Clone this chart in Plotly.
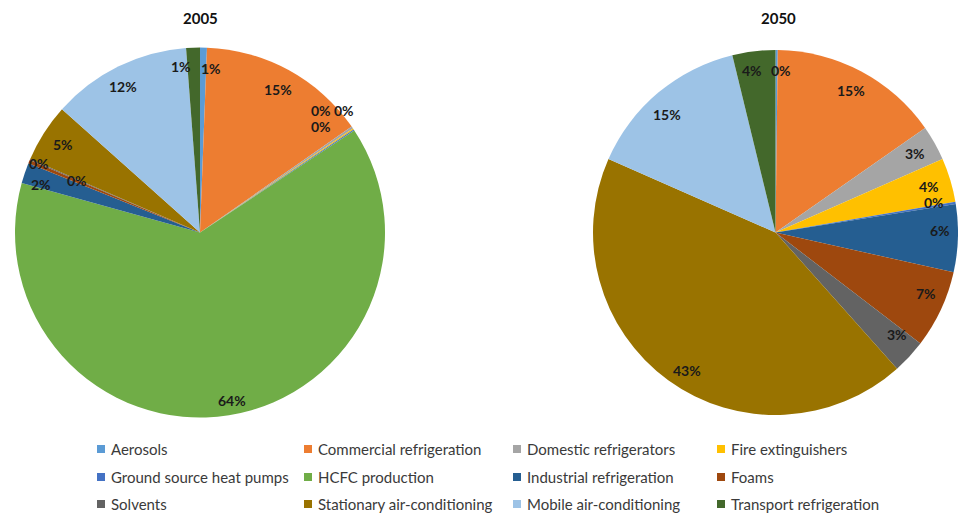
import math
import plotly.graph_objects as go

# Categories (fixed order, clockwise from 12 o'clock)
categories = [
    "Aerosols", "Commercial refrigeration", "Domestic refrigerators", "Fire extinguishers",
    "Ground source heat pumps", "HCFC production", "Industrial refrigeration", "Foams",
    "Solvents", "Stationary air-conditioning", "Mobile air-conditioning", "Transport refrigeration",
]

# Share of emissions (%) per sector
values_2005 = [0.6, 14.7, 0.2, 0.1, 0.1, 63.6, 1.8, 0.3, 0.1, 5.1, 12.2, 1.2]
values_2050 = [0.2, 15.1, 3.1, 3.9, 0.2, None, 6.0, 6.9, 3.0, 43.2, 14.6, 3.8]

colors = [
    "#5B9BD5", "#ED7D31", "#A5A5A5", "#FFC000", "#4472C4", "#70AD47",
    "#255E91", "#9E480E", "#636363", "#997300", "#9DC3E6", "#43682B",
]

W, H = 958, 514
FONT = "Lato"
LABEL_COLOR = "#1a1a1a"

# Pie boxes in pixels: (left, top, right, bottom)
boxes = {
    "2005": (15, 47, 385, 418),
    "2050": (593, 47, 958, 418),
}

# Small pixel nudges for crowded data labels
nudges = {
    ("2005", "Aerosols"): (8, -1),
    ("2005", "Transport refrigeration"): (-13, -3),
    ("2005", "Domestic refrigerators"): (-13, -30),
    ("2005", "Fire extinguishers"): (9, -31),
    ("2005", "Ground source heat pumps"): (-15, -16),
    ("2005", "HCFC production"): (7, 7),
    ("2005", "Industrial refrigeration"): (-5, 4),
    ("2005", "Foams"): (-11, -7),
    ("2005", "Solvents"): (27, 12),
    ("2005", "Mobile air-conditioning"): (-5, 0),
    ("2050", "Aerosols"): (4, -1),
    ("2050", "Transport refrigeration"): (-4, -3),
    ("2050", "Ground source heat pumps"): (0, -4),
    ("2050", "Industrial refrigeration"): (4, -7),
    ("2050", "Foams"): (5, -7),
    ("2050", "Solvents"): (4, -7),
    ("2050", "Stationary air-conditioning"): (6, 8),
    ("2050", "Mobile air-conditioning"): (-5, 5),
}


def px(x, y):
    return x / W, 1 - y / H


fig = go.Figure()
annotations = []

for year, vals in (("2005", values_2005), ("2050", values_2050)):
    labs = [c for c, v in zip(categories, vals) if v is not None]
    cols = [k for k, v in zip(colors, vals) if v is not None]
    vs = [v for v in vals if v is not None]
    l, t, r, b = boxes[year]
    fig.add_trace(go.Pie(
        labels=labs, values=vs, sort=False, direction="clockwise", rotation=0,
        marker=dict(colors=cols, line=dict(width=0)),
        textinfo="none", hoverinfo="label+percent", showlegend=False,
        domain=dict(x=[l / W, r / W], y=[1 - b / H, 1 - t / H]),
        name=year,
    ))

    # data labels placed near the rim at each slice's mid-angle
    cx, cy = (l + r) / 2, (t + b) / 2
    rad = min(r - l, b - t) / 2
    total = sum(vs)
    cum = 0.0
    for lab, v in zip(labs, vs):
        mid = (cum + v / 2) / total * 2 * math.pi
        cum += v
        x = cx + 0.88 * rad * math.sin(mid)
        y = cy - 0.88 * rad * math.cos(mid)
        dx, dy = nudges.get((year, lab), (0, 0))
        xx, yy = px(x + dx, y + dy)
        annotations.append(dict(
            x=xx, y=yy, xref="paper", yref="paper", showarrow=False,
            text=f"{round(v / total * 100):.0f}%",
            font=dict(family=FONT, size=14, color=LABEL_COLOR, weight="bold"),
            xanchor="center", yanchor="middle",
        ))

    # chart title
    tx, ty = px(cx if year == "2005" else 778, 18)
    annotations.append(dict(
        x=tx, y=ty, xref="paper", yref="paper", showarrow=False, text=year,
        font=dict(family=FONT, size=15, color="#111111", weight="bold"),
        xanchor="center", yanchor="middle",
    ))

# Legend: 4 columns x 3 rows, row-major order
col_marker_x = [97, 304, 513, 717]
row_y = [449, 477, 504]
shapes = []
for i, (cat, col) in enumerate(zip(categories, colors)):
    rr, cc = divmod(i, 4)
    mx, my = col_marker_x[cc], row_y[rr]
    x0, y0 = px(mx, my + 4)
    x1, y1 = px(mx + 8, my - 4)
    shapes.append(dict(type="rect", xref="paper", yref="paper", x0=x0, y0=y0, x1=x1, y1=y1,
                       fillcolor=col, line=dict(width=0)))
    lx, ly = px(mx + 12, my)
    annotations.append(dict(
        x=lx, y=ly, xref="paper", yref="paper", showarrow=False, text=cat,
        font=dict(family=FONT, size=15, color="#3a3a3a"),
        xanchor="left", yanchor="middle",
    ))

fig.update_layout(
    width=W, height=H,
    margin=dict(l=0, r=0, t=0, b=0, pad=0),
    paper_bgcolor="white", plot_bgcolor="white",
    annotations=annotations, shapes=shapes,
    showlegend=False,
)

fig.write_html("out.html")
